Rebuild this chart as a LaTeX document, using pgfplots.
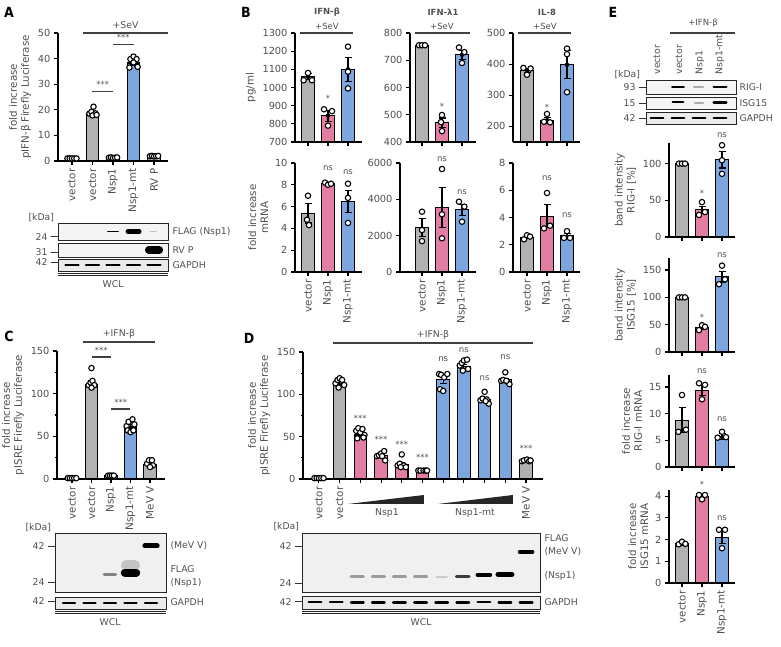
\documentclass[border=0pt]{standalone}
\usepackage{pgfplots}
\pgfplotsset{compat=1.18}
\usepackage{fontspec}
\setmainfont{DejaVu Sans}
\newfontfamily\letterfont{DejaVu Sans Condensed}
\definecolor{cg}{RGB}{178,178,178}
\definecolor{cp}{RGB}{226,125,164}
\definecolor{cb}{RGB}{126,166,222}
\definecolor{txt}{RGB}{80,80,80}
\newcommand{\ticksz}{\fontsize{9.8}{11}\selectfont}
\newcommand{\xtsz}{\fontsize{10.3}{12}\selectfont}
\newcommand{\labsz}{\fontsize{10.3}{12}\selectfont}
\newcommand{\annsz}{\fontsize{9.3}{11}\selectfont}
\newcommand{\starsz}{\fontsize{8.5}{9}\selectfont}
\tikzset{
 sig/.style={font=\starsz, text=txt},
 sl/.style={line width=1.2pt, black!75},
}
\pgfplotsset{
 gp/.style={scale only axis, clip=false, anchor=south west,
   axis x line*=bottom, axis y line*=left,
   axis line style={line width=1.2pt, black, -},
   every tick/.style={line width=1.1pt, black}, tick align=outside,
   major tick length=4pt, minor tick length=2.5pt,
   tick label style={font=\ticksz, text=txt},
   label style={font=\labsz, text=txt},
   ylabel style={align=center},
   xticklabel style={rotate=90, anchor=east, font=\xtsz},
   /pgf/number format/1000 sep={}, /pgf/number format/assume math mode=true,
   scaled y ticks=false, ymin=0},
 eb/.style={error bars/y dir=both, error bars/y explicit,
   error bars/error bar style={line width=1.1pt, draw=black},
   error bars/error mark options={rotate=90, mark size=3.5pt, line width=1.1pt, draw=black}},
 br/.style={ybar, bar width=12.5pt, bar shift=0pt, draw=black, line width=1.1pt, eb},
 ebar/.style={only marks, mark=none, forget plot, eb},
 bp/.style={draw=black, line width=1.1pt},
 pts/.style={only marks, mark=*, mark size=2.7pt, mark options={fill=white, draw=black, line width=1.1pt}},
 blot/.style={scale only axis, anchor=south west, ymin=0, ymax=1, xtick=\empty,
   ytick pos=left, tick align=outside, major tick length=7pt,
   axis line style={line width=0.8pt, black!85},
   every tick/.style={line width=0.9pt, black!80},
   axis background/.style={fill=gray!9},
   tick label style={font=\annsz, text=txt}, unbounded coords=jump},
 bd/.style={draw=black, line width=#1, line cap=round},
}
\begin{document}
\begin{tikzpicture}
\path[use as bounding box] (0,0) rectangle (781pt,-647pt);

% ================= Panel A =================
\begin{axis}[gp, at={(58pt,-161pt)}, width=110pt, height=128pt,
  xmin=-0.68, xmax=4.68, ymax=50, ytick={0,10,...,50},
  xtick={0,...,4}, xticklabels={vector,vector,Nsp1,Nsp1-mt,RV P},
  ylabel={fold increase\\pIFN-β Firefly Luciferase}]
\addplot[br, fill=cg] coordinates {(0,1.0) +- (0,0.05) (1,18.6) +- (0,0.5) (2,1.3) +- (0,0.1) (4,1.8) +- (0,0.1)};
\addplot[br, fill=cb] coordinates {(3,38.3) +- (0,0.8)};
\addplot[pts] coordinates {(-0.22,1.0)(-0.11,1.0)(0,1.0)(0.11,1.0)(0.22,1.0)
 (0.85,18.5)(0.95,19.2)(1.05,21.2)(1.15,18.6)(1.0,17.8)(1.2,18.0)
 (1.8,1.3)(1.9,1.4)(2.0,1.2)(2.1,1.3)(2.2,1.4)
 (2.8,36.5)(2.85,39.8)(3.0,40.8)(3.15,39.8)(3.2,36.8)(3.0,38.5)
 (3.8,1.9)(3.9,2.0)(4.0,1.8)(4.1,1.9)(4.2,2.0)};
\draw[sl] (axis cs:0.54,50) -- (axis cs:4.68,50) node[midway, above, font=\annsz, text=txt]{+SeV};
\draw[sl] (axis cs:1,27) -- (axis cs:2,27) node[midway, above, sig]{***};
\draw[sl] (axis cs:2,45.5) -- (axis cs:3,45.5) node[midway, above, sig]{***};
\end{axis}
% blot A
\begin{axis}[blot, at={(58pt,-240pt)}, width=110pt, height=17pt, xmin=-0.68, xmax=4.68, ytick={0.18}, yticklabels={24}]
\addplot[bd=1.5pt] coordinates {(1.75,0.5)(2.25,0.5)};
\addplot[bd=4.5pt] coordinates {(2.72,0.5)(3.28,0.5)};
\addplot[bd=1.5pt, opacity=0.2] coordinates {(3.8,0.5)(4.1,0.5)};
\end{axis}
\begin{axis}[blot, at={(58pt,-257pt)}, width=110pt, height=14pt, xmin=-0.68, xmax=4.68, ytick={0.36}, yticklabels={31}]
\addplot[bd=7.5pt] coordinates {(3.74,0.5)(4.26,0.5)};
\end{axis}
\begin{axis}[blot, at={(58pt,-271pt)}, width=110pt, height=12pt, xmin=-0.68, xmax=4.68, ytick={0.75}, yticklabels={42}, axis background/.style={fill=gray!16}]
\addplot[bd=2pt] coordinates {(-0.32,0.5)(0.32,0.5)(0.5,nan)(0.68,0.5)(1.32,0.5)(1.5,nan)(1.68,0.5)(2.32,0.5)(2.5,nan)(2.68,0.5)(3.32,0.5)(3.5,nan)(3.68,0.5)(4.32,0.5)};
\end{axis}

% ================= Panel B top =================
\begin{axis}[gp, at={(295pt,-142pt)}, width=67pt, height=109pt,
  xmin=-0.65, xmax=2.7, ymin=700, ymax=1300, ytick={700,800,...,1300},
  xtick={0,1,2}, xticklabels={,,}, ylabel={pg/ml}]
\addplot[bp, fill=cg] coordinates {(-0.31,700)(-0.31,1060)(0.31,1060)(0.31,700)} -- cycle;
\addplot[bp, fill=cp] coordinates {(0.69,700)(0.69,845)(1.31,845)(1.31,700)} -- cycle;
\addplot[bp, fill=cb] coordinates {(1.69,700)(1.69,1100)(2.31,1100)(2.31,700)} -- cycle;
\addplot[ebar] coordinates {(0,1060) +- (0,15) (1,845) +- (0,30) (2,1100) +- (0,65)};
\addplot[pts] coordinates {(-0.22,1040)(0,1080)(0.2,1040) (0.8,880)(1,790)(1.2,870) (2,1225)(2,1087)(2,995)};
\node[sig] at (axis cs:1,940) {*};
\end{axis}
\begin{axis}[gp, at={(410pt,-142pt)}, width=66pt, height=109pt,
  xmin=-0.6, xmax=2.7, ymin=400, ymax=800, ytick={400,500,...,800},
  xtick={0,1,2}, xticklabels={,,}]
\addplot[bp, fill=cg] coordinates {(-0.31,400)(-0.31,755)(0.31,755)(0.31,400)} -- cycle;
\addplot[bp, fill=cp] coordinates {(0.69,400)(0.69,470)(1.31,470)(1.31,400)} -- cycle;
\addplot[bp, fill=cb] coordinates {(1.69,400)(1.69,720)(2.31,720)(2.31,400)} -- cycle;
\addplot[ebar] coordinates {(0,755) +- (0,2) (1,470) +- (0,18) (2,720) +- (0,16)};
\addplot[pts] coordinates {(-0.15,755)(0,755)(0.15,755) (1,499)(0.95,473)(1,440) (1.85,747)(2.12,730)(2,690)};
\node[sig] at (axis cs:1,530) {*};
\end{axis}
\begin{axis}[gp, at={(513pt,-142pt)}, width=67pt, height=109pt,
  xmin=-0.7, xmax=2.65, ymin=150, ymax=500, ytick={200,300,400,500},
  xtick={0,1,2}, xticklabels={,,}]
\addplot[bp, fill=cg] coordinates {(-0.31,150)(-0.31,380)(0.31,380)(0.31,150)} -- cycle;
\addplot[bp, fill=cp] coordinates {(0.69,150)(0.69,220)(1.31,220)(1.31,150)} -- cycle;
\addplot[bp, fill=cb] coordinates {(1.69,150)(1.69,398)(2.31,398)(2.31,150)} -- cycle;
\addplot[ebar] coordinates {(0,380) +- (0,7) (1,220) +- (0,10) (2,398) +- (0,45)};
\addplot[pts] coordinates {(-0.18,388)(0.18,386)(0,366) (1,240)(0.85,215)(1.15,213) (2,450)(2,432)(2,310)};
\node[sig] at (axis cs:1,262) {*};
\end{axis}

% ================= Panel B bottom =================
\begin{axis}[gp, at={(295pt,-272pt)}, width=67pt, height=109pt,
  xmin=-0.65, xmax=2.7, ymax=10, ytick={0,2,...,10},
  xtick={0,1,2}, xticklabels={vector,Nsp1,Nsp1-mt}, ylabel={fold increase\\mRNA}]
\addplot[br, fill=cg] coordinates {(0,5.4) +- (0,0.9)};
\addplot[br, fill=cp] coordinates {(1,8.1) +- (0,0.15)};
\addplot[br, fill=cb] coordinates {(2,6.45) +- (0,1.0)};
\addplot[pts] coordinates {(0,7.0)(-0.05,4.8)(0.05,4.3) (0.85,8.2)(1,8.0)(1.15,8.1) (2,8.1)(2,6.8)(2,4.5)};
\node[sig] at (axis cs:1,9.5) {ns};
\node[sig] at (axis cs:2,9.15) {ns};
\end{axis}
\begin{axis}[gp, at={(400pt,-272pt)}, width=76pt, height=109pt,
  xmin=-1.1, xmax=2.7, ymax=6000, ytick={0,2000,4000,6000},
  xtick={0,1,2}, xticklabels={vector,Nsp1,Nsp1-mt}]
\addplot[br, fill=cg] coordinates {(0,2450) +- (0,480)};
\addplot[br, fill=cp] coordinates {(1,3570) +- (0,1100)};
\addplot[br, fill=cb] coordinates {(2,3420) +- (0,320)};
\addplot[pts] coordinates {(0,3320)(0,2310)(0,1700) (1,5670)(1,3175)(1,1855) (1.85,3870)(2.12,3600)(2,2770)};
\node[sig] at (axis cs:1,6200) {ns};
\node[sig] at (axis cs:2,4400) {ns};
\end{axis}
\begin{axis}[gp, at={(513pt,-272pt)}, width=67pt, height=109pt,
  xmin=-0.7, xmax=2.65, ymax=8, ytick={0,2,...,8},
  xtick={0,1,2}, xticklabels={vector,Nsp1,Nsp1-mt}]
\addplot[br, fill=cg] coordinates {(0,2.55) +- (0,0.1)};
\addplot[br, fill=cp] coordinates {(1,4.1) +- (0,0.85)};
\addplot[br, fill=cb] coordinates {(2,2.65) +- (0,0.2)};
\addplot[pts] coordinates {(-0.15,2.4)(0,2.7)(0.15,2.6) (1,5.8)(0.85,3.2)(1.15,3.4) (1.85,2.5)(2,3.0)(2.15,2.5)};
\node[sig] at (axis cs:1,6.85) {ns};
\node[sig] at (axis cs:2,4.15) {ns};
\end{axis}

% ================= Panel C =================
\begin{axis}[gp, at={(57pt,-479pt)}, width=108pt, height=128pt,
  xmin=-0.77, xmax=4.77, ymax=150, ytick={0,50,100,150}, minor ytick={25,75,125},
  xtick={0,...,4}, xticklabels={vector,vector,Nsp1,Nsp1-mt,MeV V},
  ylabel={fold increase\\pISRE Firefly Luciferase}]
\addplot[br, fill=cg] coordinates {(0,1) +- (0,0.3) (1,111) +- (0,3) (2,4) +- (0,0.3) (4,17) +- (0,2)};
\addplot[br, fill=cb] coordinates {(3,61) +- (0,2.5)};
\addplot[pts] coordinates {(-0.22,1)(-0.11,1)(0,1)(0.11,1)(0.22,1)
 (1,130)(0.85,110)(0.95,113)(1.05,115)(1.15,110)(1.0,107)
 (1.85,4)(1.95,4)(2.05,4)(2.15,4)
 (2.8,62)(2.9,67)(3.1,70)(3.2,64)(2.85,57)(3.0,55)(3.15,57)
 (3.85,18)(3.95,22)(4.1,22)(4.15,16)(4.0,14)};
\draw[sl] (axis cs:0.56,160.6) -- (axis cs:4.26,160.6) node[midway, above, font=\annsz, text=txt]{+IFN-β};
\draw[sl] (axis cs:1,143) -- (axis cs:2,143) node[midway, above, sig]{***};
\draw[sl] (axis cs:2,82) -- (axis cs:3,82) node[midway, above, sig]{***};
\end{axis}
\begin{axis}[blot, at={(55pt,-592pt)}, width=111pt, height=59pt, xmin=-0.68, xmax=4.73, ytick={0.17,0.78}, yticklabels={24,42}, axis background/.style={fill=gray!12}]
\addplot[bd=3pt, opacity=0.45] coordinates {(1.72,0.29)(2.28,0.29)};
\addplot[bd=10pt, opacity=0.18] coordinates {(2.78,0.45)(3.22,0.45)};
\addplot[bd=8pt] coordinates {(2.72,0.33)(3.28,0.33)};
\addplot[bd=5pt] coordinates {(3.7,0.78)(4.3,0.78)};
\end{axis}
\begin{axis}[blot, at={(55pt,-609pt)}, width=111pt, height=12pt, xmin=-0.68, xmax=4.73, ytick={0.67}, yticklabels={42}, axis background/.style={fill=gray!16}]
\addplot[bd=2pt] coordinates {(-0.3,0.5)(0.3,0.5)(0.5,nan)(0.7,0.5)(1.3,0.5)(1.5,nan)(1.7,0.5)(2.3,0.5)(2.5,nan)(2.7,0.5)(3.3,0.5)(3.5,nan)(3.7,0.5)(4.3,0.5)};
\end{axis}

% ================= Panel D =================
\begin{axis}[gp, at={(303pt,-479pt)}, width=240pt, height=127pt,
  xmin=-0.77, xmax=10.82, ymax=150, ytick={0,50,100,150}, minor ytick={25,75,125},
  xtick={0,...,10}, xticklabels={vector,vector,,,,,,,,,MeV V},
  ylabel={fold increase\\pISRE Firefly Luciferase}]
\addplot[br, fill=cg] coordinates {(0,1) +- (0,0.2) (1,113) +- (0,1.8) (10,21) +- (0,0.8)};
\addplot[br, fill=cp] coordinates {(2,52) +- (0,2.3) (3,28) +- (0,1.6) (4,17) +- (0,2.4) (5,10) +- (0,0.3)};
\addplot[br, fill=cb] coordinates {(6,117) +- (0,3.7) (7,133) +- (0,2) (8,94) +- (0,2) (9,117) +- (0,2)};
\addplot[pts] coordinates {(-0.22,1)(-0.11,1)(0,1)(0.11,1)(0.22,1)
 (0.8,113)(0.9,117)(1.0,119)(1.12,117)(1.22,111)(0.95,108)
 (1.8,57)(1.9,60)(2.0,55)(2.1,59)(2.2,52)(1.85,48)(2.15,49)
 (2.8,27)(2.9,28)(3.0,30)(3.15,33)(3.2,22)(3.05,27)
 (3.8,16)(3.9,18)(4.0,29)(4.1,16)(4.2,14)(3.95,14)
 (4.8,10)(4.9,10)(5.05,10)(5.15,10)(5.22,10)
 (5.8,124)(5.9,123)(6.05,120)(6.2,124)(5.85,106)(6.0,104)
 (6.8,134)(6.9,137)(7.0,140)(7.15,141)(7.2,130)(6.95,128)
 (7.8,93)(7.9,95)(8.0,103)(8.1,94)(8.2,89)(8.05,92)
 (8.8,116)(8.9,117)(9.0,126)(9.1,115)(9.2,112)(9.05,116)
 (9.8,21)(9.9,22)(10.05,23)(10.15,21)(10.22,22)};
\node[sig] at (axis cs:2,72) {***};
\node[sig] at (axis cs:3,47) {***};
\node[sig] at (axis cs:4,41) {***};
\node[sig] at (axis cs:5,25) {***};
\node[sig] at (axis cs:10,36) {***};
\node[sig] at (axis cs:6,141) {ns};
\node[sig] at (axis cs:7,152) {ns};
\node[sig] at (axis cs:8,119) {ns};
\node[sig] at (axis cs:9,144) {ns};
\draw[sl] (axis cs:0.68,160.6) -- (axis cs:10.34,160.6) node[midway, above, font=\annsz, text=txt]{+IFN-β};
\addplot[fill=black!85, draw=none] coordinates {(1.4,-29.5)(5.07,-29.5)(5.07,-18.9)} -- cycle;
\addplot[fill=black!85, draw=none] coordinates {(5.75,-29.5)(9.37,-29.5)(9.37,-18.9)} -- cycle;
\end{axis}
\begin{axis}[blot, at={(302pt,-592pt)}, width=238pt, height=59pt, xmin=-0.62, xmax=10.66, ytick={0.15,0.78}, yticklabels={24,42}, axis background/.style={fill=gray!12}]
\addplot[bd=2.5pt, opacity=0.35] coordinates {(1.7,0.26)(2.3,0.26)(2.5,nan)(2.7,0.26)(3.3,0.26)(3.5,nan)(3.7,0.26)(4.3,0.26)(4.5,nan)(4.7,0.26)(5.3,0.26)};
\addplot[bd=2pt, opacity=0.15] coordinates {(5.75,0.26)(6.25,0.26)};
\addplot[bd=3pt, opacity=0.75] coordinates {(6.7,0.27)(7.3,0.27)};
\addplot[bd=4pt] coordinates {(7.7,0.29)(8.3,0.29)};
\addplot[bd=5.5pt] coordinates {(8.68,0.3)(9.32,0.3)};
\addplot[bd=4pt] coordinates {(9.7,0.68)(10.3,0.68)};
\end{axis}
\begin{axis}[blot, at={(302pt,-609pt)}, width=238pt, height=13pt, xmin=-0.62, xmax=10.66, ytick={0.55}, yticklabels={42}, axis background/.style={fill=gray!16}]
\addplot[bd=2.2pt] coordinates {(-0.3,0.55)(0.3,0.55)(0.5,nan)(0.7,0.55)(1.3,0.55)(1.5,nan)(1.7,0.5)(2.3,0.5)(2.5,nan)(2.7,0.5)(3.3,0.5)(3.5,nan)(3.7,0.5)(4.3,0.5)(4.5,nan)(4.7,0.5)(5.3,0.5)(5.5,nan)(5.7,0.5)(6.3,0.5)(6.5,nan)(6.7,0.5)(7.3,0.5)(7.5,nan)(7.7,0.55)(8.3,0.55)(8.5,nan)(8.7,0.5)(9.3,0.5)(9.5,nan)(9.7,0.5)(10.3,0.5)};
\end{axis}

% ================= Panel E blot =================
\begin{axis}[blot, at={(646pt,-94pt)}, width=90pt, height=14pt, xmin=-0.52, xmax=3.76, ytick={0.5}, yticklabels={93}, axis background/.style={fill=gray!8}]
\addplot[bd=2.2pt] coordinates {(0.72,0.5)(1.28,0.5)};
\addplot[bd=1.8pt, opacity=0.3] coordinates {(1.75,0.5)(2.2,0.5)};
\addplot[bd=2.5pt] coordinates {(2.7,0.5)(3.3,0.5)};
\end{axis}
\begin{axis}[blot, at={(646pt,-109pt)}, width=90pt, height=12pt, xmin=-0.52, xmax=3.76, ytick={0.5}, yticklabels={15}, axis background/.style={fill=gray!8}]
\addplot[bd=2.2pt] coordinates {(0.75,0.55)(1.25,0.55)};
\addplot[bd=1.6pt, opacity=0.3] coordinates {(1.8,0.5)(2.2,0.5)};
\addplot[bd=2.5pt] coordinates {(2.7,0.55)(3.3,0.55)};
\end{axis}
\begin{axis}[blot, at={(646pt,-124pt)}, width=90pt, height=12pt, xmin=-0.52, xmax=3.76, ytick={0.5}, yticklabels={42}, axis background/.style={fill=gray!16}]
\addplot[bd=2.2pt] coordinates {(-0.3,0.5)(0.3,0.5)(0.5,nan)(0.7,0.5)(1.3,0.5)(1.5,nan)(1.7,0.5)(2.3,0.5)(2.5,nan)(2.7,0.5)(3.3,0.5)};
\end{axis}

% ================= Panel E charts =================
\begin{axis}[gp, at={(669pt,-237pt)}, width=66pt, height=94pt,
  xmin=-0.65, xmax=2.65, ymax=128, ytick={0,50,100},
  xtick={0,1,2}, xticklabels={,,}, ylabel={band intensity\\RIG-I [\%]}]
\addplot[br, fill=cg] coordinates {(0,100) +- (0,0)};
\addplot[br, fill=cp] coordinates {(1,37) +- (0,5)};
\addplot[br, fill=cb] coordinates {(2,105) +- (0,11)};
\addplot[pts] coordinates {(-0.15,100)(0,100)(0.15,100) (1,47.5)(0.85,30)(1.15,34) (2,125)(2,104.5)(2,86)};
\node[sig] at (axis cs:1,59) {*};
\node[sig] at (axis cs:2,138) {ns};
\end{axis}
\begin{axis}[gp, at={(669pt,-352pt)}, width=66pt, height=94pt,
  xmin=-0.65, xmax=2.65, ymax=172, ytick={0,50,100,150},
  xtick={0,1,2}, xticklabels={,,}, ylabel={band intensity\\ISG15 [\%]}]
\addplot[br, fill=cg] coordinates {(0,100) +- (0,0)};
\addplot[br, fill=cp] coordinates {(1,45) +- (0,3)};
\addplot[br, fill=cb] coordinates {(2,138) +- (0,10)};
\addplot[pts] coordinates {(-0.15,100)(0,100)(0.15,100) (1,49)(0.85,40)(1.15,46) (2,158)(1.85,124)(2.15,133)};
\node[sig] at (axis cs:1,64) {*};
\node[sig] at (axis cs:2,177) {ns};
\end{axis}
\begin{axis}[gp, at={(669pt,-467pt)}, width=66pt, height=92pt,
  xmin=-0.65, xmax=2.65, ymax=17.25, ytick={0,5,10,15},
  xtick={0,1,2}, xticklabels={,,}, ylabel={fold increase\\RIG-I mRNA}]
\addplot[br, fill=cg] coordinates {(0,8.8) +- (0,2.4)};
\addplot[br, fill=cp] coordinates {(1,14.3) +- (0,0.9)};
\addplot[br, fill=cb] coordinates {(2,5.7) +- (0,0.5)};
\addplot[pts] coordinates {(0,13.5)(-0.18,6.6)(0.2,7.0) (0.85,15.7)(1.15,15.4)(1,12.7) (2,6.6)(1.78,5.5)(2.2,5.6)};
\node[sig] at (axis cs:1,17.9) {ns};
\node[sig] at (axis cs:2,8.9) {ns};
\end{axis}
\begin{axis}[gp, at={(669pt,-583pt)}, width=66pt, height=93pt,
  xmin=-0.65, xmax=2.65, ymax=4.28, ytick={0,...,4},
  xtick={0,1,2}, xticklabels={vector,Nsp1,Nsp1-mt}, ylabel={fold increase\\ISG15 mRNA}]
\addplot[br, fill=cg] coordinates {(0,1.8) +- (0,0.05)};
\addplot[br, fill=cp] coordinates {(1,4.0) +- (0,0.05)};
\addplot[br, fill=cb] coordinates {(2,2.1) +- (0,0.27)};
\addplot[pts] coordinates {(-0.17,1.78)(0,1.9)(0.17,1.8) (0.85,4.05)(1.15,4.05)(1,3.85) (1.85,2.45)(2.15,2.45)(2,1.6)};
\node[sig] at (axis cs:1,4.55) {*};
\node[sig] at (axis cs:2,3.0) {ns};
\end{axis}

% ================= Text annotations =================
\begin{scope}[x=1pt, y=-1pt, every node/.style={font=\annsz, text=txt}]
\node[font=\letterfont\bfseries\fontsize{14}{16}\selectfont, text=black] at (9,12) {A};
\node[font=\letterfont\bfseries\fontsize{14}{16}\selectfont, text=black] at (246,12) {B};
\node[font=\letterfont\bfseries\fontsize{14}{16}\selectfont, text=black] at (9,336) {C};
\node[font=\letterfont\bfseries\fontsize{14}{16}\selectfont, text=black] at (249,338) {D};
\node[font=\letterfont\bfseries\fontsize{14}{16}\selectfont, text=black] at (613,12) {E};
% B titles
\node[font=\bfseries\fontsize{8.5}{10}\selectfont] at (327,12) {IFN-β};
\node[font=\bfseries\fontsize{8.5}{10}\selectfont] at (443,12) {IFN-λ1};
\node[font=\bfseries\fontsize{8.5}{10}\selectfont] at (547,12) {IL-8};
\node[font=\fontsize{8.5}{10}\selectfont] at (327,26) {+SeV}; \draw[sl] (300,33) -- (353,33);
\node[font=\fontsize{8.5}{10}\selectfont] at (442,26) {+SeV}; \draw[sl] (415,33) -- (470,33);
\node[font=\fontsize{8.5}{10}\selectfont] at (545,26) {+SeV}; \draw[sl] (518,33) -- (571,33);
% blot A text
\node[anchor=west] at (25,218) {[kDa]};
\node[anchor=west] at (169,232) {FLAG (Nsp1)};
\node[anchor=west] at (169,250) {RV P};
\node[anchor=west] at (169,265) {GAPDH};
\draw[line width=0.7pt, black!85] (58,273.5) -- (168,273.5);
\draw[line width=0.7pt, black!85] (58,275.8) -- (168,275.8);
\node at (113,284) {WCL};
% blot C text
\node[anchor=west] at (22,528) {[kDa]};
\node[anchor=west] at (167,546) {(MeV V)};
\node[anchor=west] at (167,569) {FLAG};
\node[anchor=west] at (167,583) {(Nsp1)};
\node[anchor=west] at (167,602) {GAPDH};
\draw[line width=0.7pt, black!85] (55,611.5) -- (166,611.5);
\draw[line width=0.7pt, black!85] (55,613.8) -- (166,613.8);
\node at (110,622) {WCL};
% D labels
\node at (387,513) {Nsp1};
\node at (475,513) {Nsp1-mt};
\node[anchor=west] at (270,527) {[kDa]};
\node[anchor=west] at (541,538) {FLAG};
\node[anchor=west] at (541,552) {(MeV V)};
\node[anchor=west] at (541,576) {(Nsp1)};
\node[anchor=west] at (541,602) {GAPDH};
\draw[line width=0.7pt, black!85] (302,611.5) -- (540,611.5);
\draw[line width=0.7pt, black!85] (302,613.8) -- (540,613.8);
\node at (421,622) {WCL};
% E blot labels
\node[font=\fontsize{8.5}{10}\selectfont] at (703,23) {+IFN-β}; \draw[sl] (670,33) -- (735,33);
\node[rotate=90, anchor=west] at (657,78) {vector};
\node[rotate=90, anchor=west] at (679,78) {vector};
\node[rotate=90, anchor=west] at (700,78) {Nsp1};
\node[rotate=90, anchor=west] at (720,78) {Nsp1-mt};
\node[anchor=west] at (611,75) {[kDa]};
\node[anchor=west] at (736,87) {RIG-I};
\node[anchor=west] at (736,103) {ISG15};
\node[anchor=west] at (736,118) {GAPDH};
\end{scope}
\end{tikzpicture}
\end{document}
